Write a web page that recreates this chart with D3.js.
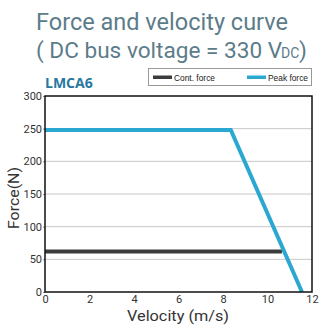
<!DOCTYPE html>
<html><head><meta charset="utf-8">
<script src="https://cdn.jsdelivr.net/npm/d3@7"></script>
<style>body{margin:0;background:#fff}svg{display:block}</style>
</head><body>
<script>
const xTicks = [0, 2, 4, 6, 8, 10, 12];
const yTicks = [0, 50, 100, 150, 200, 250, 300];
const seriesNames = ["Cont. force", "Peak force"];
const seriesColors = ["#3c3c3c", "#2aa8d2"];
const contForce = [[0, 62], [10.65, 62]];
const peakForce = [[0, 248], [8.35, 248], [11.55, 0]];

const W = 322, H = 329;
const svg = d3.select("body").append("svg").attr("width", W).attr("height", H);
const m = {l: 45, r: 312, t: 96, b: 292};
const x = d3.scaleLinear().domain([0, 12]).range([m.l, m.r]);
const y = d3.scaleLinear().domain([0, 300]).range([m.b, m.t]);

// Title
const tc = "#5c7c8a";
const tf = "Roboto, 'DejaVu Sans'";
svg.append("text").attr("x", 36).attr("y", 30).attr("fill", tc)
  .style("font-family", tf).style("font-size", "23px")
  .attr("textLength", 252).attr("lengthAdjust", "spacingAndGlyphs")
  .text("Force and velocity curve");
const t2 = svg.append("text").attr("y", 58).attr("fill", tc).style("font-family", tf).style("font-size", "22.6px");
t2.append("tspan").attr("x", 36).text("( DC bus voltage = 330 V");
t2.append("tspan").attr("x", 281).style("font-size", "14px").text("DC");
t2.append("tspan").attr("x", 299).text(")");

svg.append("text").attr("x", 45).attr("y", 88).attr("fill", "#2878a0")
  .style("font-family", "'Open Sans', 'DejaVu Sans'").style("font-weight", "bold")
  .style("font-size", "14px").text("LMCA6");

// Legend
const lg = svg.append("g");
lg.append("rect").attr("x", 148.5).attr("y", 68.5).attr("width", 163).attr("height", 17)
  .attr("fill", "#fff").attr("stroke", "#999").attr("stroke-width", 1);
const lx = [153, 247];
const lw = [41, 40];
seriesNames.forEach((n, i) => {
  lg.append("rect").attr("x", lx[i]).attr("y", 75.5).attr("width", 19).attr("height", 3.5).attr("fill", seriesColors[i]);
  lg.append("text").attr("x", lx[i] + 21).attr("y", 80.5).attr("fill", "#222")
    .style("font-family", "'Liberation Sans Narrow', 'Liberation Sans', Arial").style("font-size", "9px")
    .attr("textLength", lw[i]).attr("lengthAdjust", "spacingAndGlyphs").text(n);
});

// Grid
svg.append("g").selectAll("line").data(yTicks.filter(d => d > 0 && d < 300)).join("line")
  .attr("x1", m.l).attr("x2", m.r).attr("y1", d => y(d)).attr("y2", d => y(d))
  .attr("stroke", "#c8c8c8").attr("stroke-width", 1);

// Axes
const ya = svg.append("g").attr("transform", `translate(${m.l},0)`)
  .call(d3.axisLeft(y).tickValues(yTicks).tickSize(2).tickPadding(1));
const xa = svg.append("g").attr("transform", `translate(0,${m.b})`)
  .call(d3.axisBottom(x).tickValues(xTicks).tickSize(0).tickPadding(3));
[ya, xa].forEach(a => {
  a.select(".domain").remove();
  a.selectAll("line").attr("stroke", "#888");
  a.selectAll("text").attr("fill", "#333").style("font-family", tf).style("font-size", "11px");
});

// Lines
const line = d3.line().x(d => x(d[0])).y(d => y(d[1]));
svg.append("path").datum(contForce).attr("d", line).attr("fill", "none")
  .attr("stroke", seriesColors[0]).attr("stroke-width", 4);
svg.append("path").datum(peakForce).attr("d", line).attr("fill", "none")
  .attr("stroke", seriesColors[1]).attr("stroke-width", 4).attr("stroke-linejoin", "miter");

// Frame
svg.append("rect").attr("x", m.l).attr("y", m.t).attr("width", m.r - m.l).attr("height", m.b - m.t)
  .attr("fill", "none").attr("stroke", "#111").attr("stroke-width", 1.5);

// Axis titles
svg.append("text").attr("x", 178).attr("y", 321).attr("text-anchor", "middle")
  .attr("fill", "#333").style("font-family", tf).style("font-size", "15px")
  .attr("textLength", 102).attr("lengthAdjust", "spacingAndGlyphs")
  .text("Velocity (m/s)");
svg.append("text").attr("transform", `translate(19,${(m.t + m.b) / 2 + 4}) rotate(-90)`)
  .attr("text-anchor", "middle").attr("fill", "#333")
  .style("font-family", tf).style("font-size", "15px")
  .attr("textLength", 62).attr("lengthAdjust", "spacingAndGlyphs").text("Force(N)");
</script>
</body></html>
